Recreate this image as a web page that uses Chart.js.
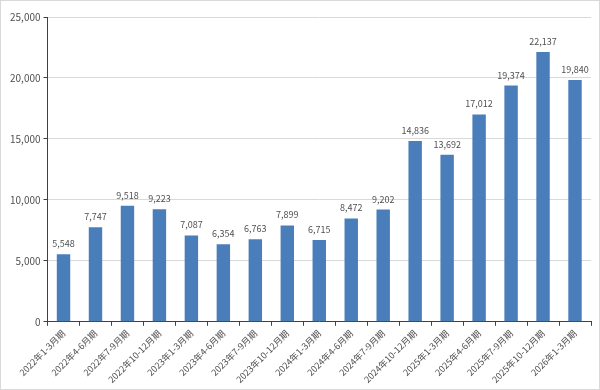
<!DOCTYPE html>
<html>
<head>
<meta charset="utf-8">
<script src="https://cdn.jsdelivr.net/npm/chart.js@4.4.0/dist/chart.umd.min.js"></script>
<style>
  html, body { margin: 0; padding: 0; background: #fff; }
  #wrap { width: 598px; height: 388px; border: 1px solid #d9d9d9; position: relative; }
</style>
</head>
<body>
<div id="wrap"><canvas id="chart"></canvas></div>
<script>
var QUARTERS = ["2022年1-3月期", "2022年4-6月期", "2022年7-9月期", "2022年10-12月期",
  "2023年1-3月期", "2023年4-6月期", "2023年7-9月期", "2023年10-12月期",
  "2024年1-3月期", "2024年4-6月期", "2024年7-9月期", "2024年10-12月期",
  "2025年1-3月期", "2025年4-6月期", "2025年7-9月期", "2025年10-12月期",
  "2026年1-3月期"];
var COUNTS = [5548, 7747, 9518, 9223, 7087, 6354, 6763, 7899, 6715, 8472, 9202,
  14836, 13692, 17012, 19374, 22137, 19840];

var FONT = "'Noto Sans CJK JP', 'Noto Sans', sans-serif";

// draws the number above each bar
var valueLabels = {
  id: 'valueLabels',
  afterDatasetsDraw: function(chart) {
    var ctx = chart.ctx;
    var meta = chart.getDatasetMeta(0);
    ctx.save();
    ctx.font = "9px " + FONT;
    ctx.fillStyle = "#505050";
    ctx.textAlign = "center";
    ctx.textBaseline = "bottom";
    meta.data.forEach(function(bar, i) {
      ctx.fillText(COUNTS[i].toLocaleString('en-US'), bar.x, bar.y - 6);
    });
    ctx.restore();
  }
};

new Chart(document.getElementById('chart'), {
  type: 'bar',
  data: {
    labels: QUARTERS,
    datasets: [{
      data: COUNTS,
      backgroundColor: '#4a7ebb',
      borderWidth: 0,
      barPercentage: 0.42,
      categoryPercentage: 1.0
    }]
  },
  options: {
    responsive: true,
    maintainAspectRatio: false,
    animation: false,
    layout: { padding: { left: 6, right: 8, top: 16, bottom: 2 } },
    plugins: { legend: { display: false }, tooltip: { enabled: false } },
    scales: {
      x: {
        grid: { drawOnChartArea: false, drawTicks: true, tickLength: 4, tickColor: '#404040' },
        border: { color: '#404040' },
        ticks: {
          font: { size: 9, family: FONT },
          color: '#505050',
          maxRotation: 45,
          minRotation: 45,
          autoSkip: false,
          padding: 2
        }
      },
      y: {
        min: 0,
        max: 25000,
        grid: { color: '#d9d9d9', tickLength: 4, tickColor: '#404040' },
        border: { color: '#404040' },
        ticks: {
          stepSize: 5000,
          font: { size: 10, family: FONT },
          color: '#505050',
          padding: 3,
          callback: function(v) { return v.toLocaleString('en-US'); }
        }
      }
    }
  },
  plugins: [valueLabels]
});
</script>
</body>
</html>
